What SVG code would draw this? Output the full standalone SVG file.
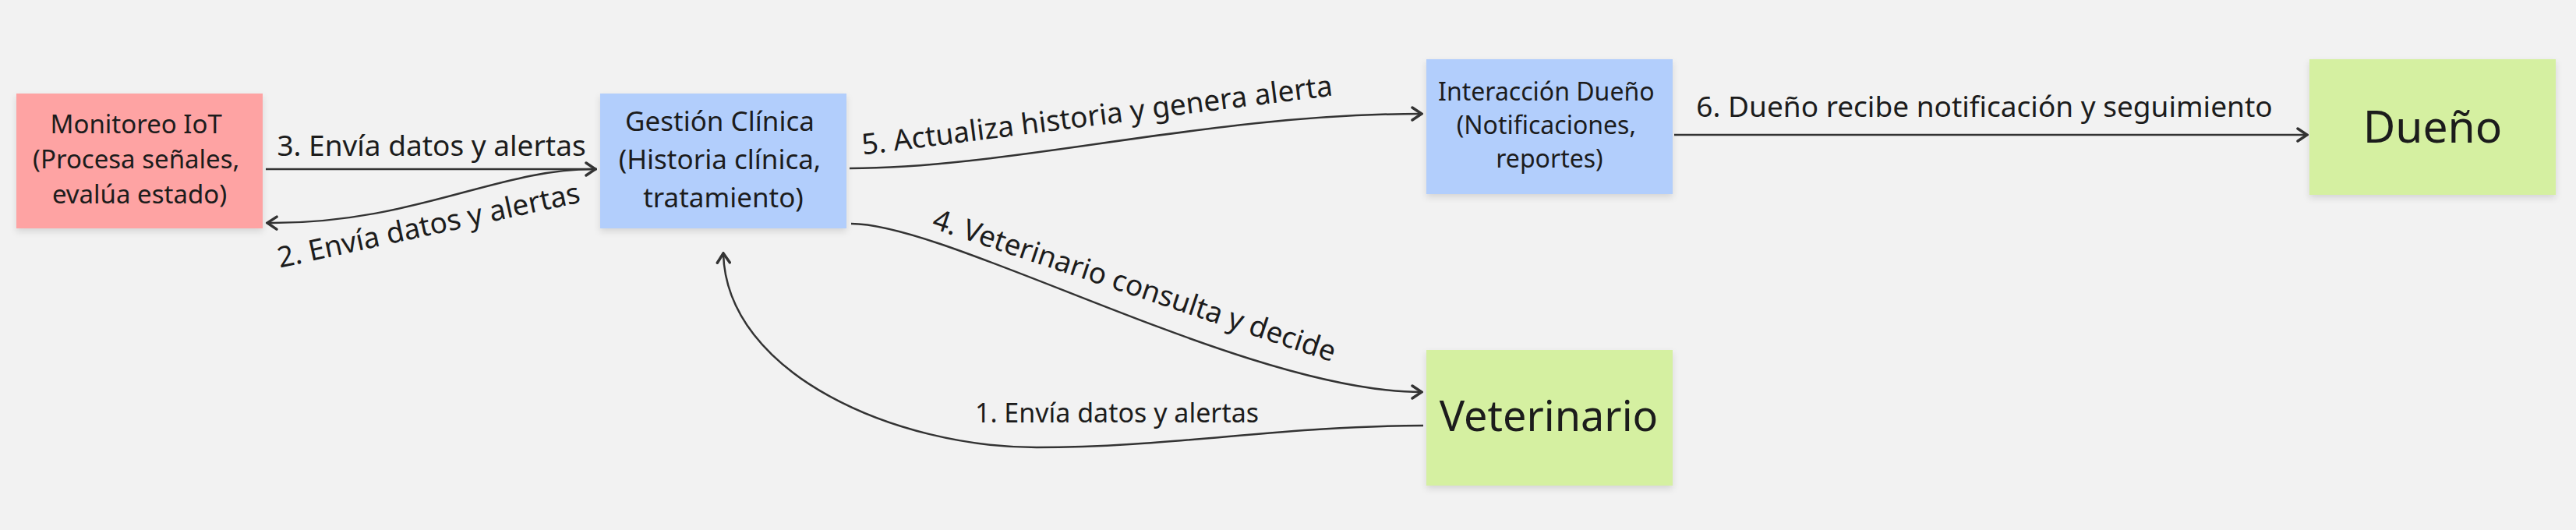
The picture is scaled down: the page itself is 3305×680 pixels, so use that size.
<svg xmlns="http://www.w3.org/2000/svg" width="3305" height="680" viewBox="0 0 3305 680">
  <defs>
    <style>
      .node { filter: url(#shadow); }
      .txt { font-family: "Noto Sans", "Open Sans", sans-serif; fill: #1c1c1c; text-anchor: middle; }
      .lbl { font-family: "Noto Sans", "Open Sans", sans-serif; fill: #1c1c1c; text-anchor: middle; font-size: 37px; }
      .edge { fill: none; stroke: #333333; stroke-width: 2.5; marker-end: url(#arrow); }
      .pink { fill: #FEA3A3; }
      .blue { fill: #B2CEFC; }
      .green { fill: #D5F0A1; }
    </style>
    <filter id="shadow" x="-10%" y="-10%" width="120%" height="130%">
      <feDropShadow dx="0" dy="4" stdDeviation="4" flood-color="#000000" flood-opacity="0.12"/>
    </filter>
    <marker id="arrow" markerUnits="userSpaceOnUse" viewBox="0 0 16 20" markerWidth="16" markerHeight="20" refX="14" refY="10" orient="auto">
      <path d="M2,2 L14,10 L2,18" fill="none" stroke="#333333" stroke-width="3.5" stroke-linejoin="miter" stroke-linecap="round"/>
    </marker>
  </defs>
  <rect width="3305" height="680" fill="#F2F2F2"/>

  <g id="connectors">
    <path class="edge" d="M341,217 L764,217"/>
    <path class="edge" d="M766,217 C640,215 530,288 343,286"/>
    <path class="edge" d="M1090,216 C1300,216 1550,146 1824,146"/>
    <path class="edge" d="M1092,287 C1220,287 1600,503 1824,503"/>
    <path class="edge" d="M1826,546 C1650,546 1500,574 1330,574 C1150,574 932,480 928,325"/>
    <path class="edge" d="M2148,173 L2960,173"/>
    <text class="lbl" x="553.5" y="200">3. Envía datos y alertas</text>
    <text class="lbl" x="552.5" y="301.5" transform="rotate(-12.3 552.5 301.5)">2. Envía datos y alertas</text>
    <text class="lbl" x="1409" y="160.5" transform="rotate(-7.2 1409 160.5)">5. Actualiza historia y genera alerta</text>
    <text class="lbl" x="1451.5" y="378.4" transform="rotate(18.5 1451.5 378.4)">4. Veterinario consulta y decide</text>
    <text class="lbl" x="1433" y="542" style="font-size:34px">1. Envía datos y alertas</text>
    <text class="lbl" x="2546" y="150">6. Dueño recibe notificación y seguimiento</text>
  </g>

  <g id="monitoreo">
    <rect class="node pink" x="21" y="120" width="316" height="173"/>
    <text class="txt" style="font-size:33px" x="179">
      <tspan x="179" y="171">Monitoreo IoT</tspan>
      <tspan x="179" y="216">(Procesa señales,</tspan>
      <tspan x="179" y="261">evalúa estado)</tspan>
    </text>
  </g>

  <g id="gestion">
    <rect class="node blue" x="770" y="120" width="316" height="173"/>
    <text class="txt" style="font-size:35px" x="928">
      <tspan x="928" y="168">Gestión Clínica</tspan>
      <tspan x="928" y="217">(Historia clínica,</tspan>
      <tspan x="928" y="266">tratamiento)</tspan>
    </text>
  </g>

  <g id="interaccion">
    <rect class="node blue" x="1830" y="76" width="316" height="173"/>
    <text class="txt" style="font-size:32px" x="1988">
      <tspan x="1988" y="129">Interacción Dueño</tspan>
      <tspan x="1988" y="172">(Notificaciones,</tspan>
      <tspan x="1988" y="215">reportes)</tspan>
    </text>
  </g>

  <g id="veterinario">
    <rect class="node green" x="1830" y="449" width="316" height="174"/>
    <text class="txt" style="font-size:54px" x="1987" y="553">Veterinario</text>
  </g>

  <g id="dueno">
    <rect class="node green" x="2963" y="76" width="316" height="174"/>
    <text class="txt" style="font-size:57px" x="3121" y="183">Dueño</text>
  </g>
</svg>
